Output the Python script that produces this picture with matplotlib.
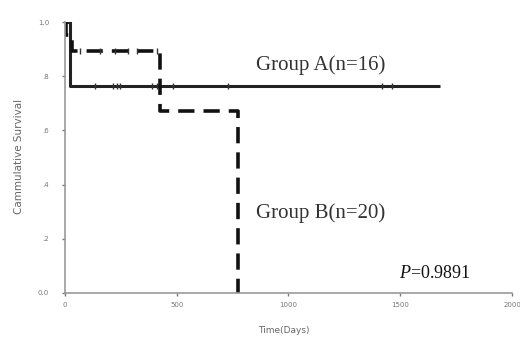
import matplotlib
matplotlib.use("Agg")
import matplotlib.pyplot as plt

plt.rcParams["mathtext.fontset"] = "custom"
plt.rcParams["mathtext.rm"] = "Liberation Serif"
plt.rcParams["mathtext.it"] = "Liberation Serif:italic"

# Kaplan-Meier steps (days, survival)
a_times = [0, 22, 1680]
a_surv = [1.0, 0.765, 0.765]
a_censor_times = [134, 215, 233, 246, 390, 412, 483, 730, 1419, 1464]

b_times = [0, 5, 30, 425, 775]
b_surv = [1.0, 0.953, 0.894, 0.672, 0.0]
b_censor_times = [67, 157, 224, 282, 322, 412]
b_censor_surv = [0.894, 0.894, 0.894, 0.894, 0.894, 0.894]

x_ticks = [0, 500, 1000, 1500, 2000]
x_ticklabels = ["0", "500", "1000", "1500", "2000"]
y_ticks = [0.0, 0.2, 0.4, 0.6, 0.8, 1.0]
y_ticklabels = ["0.0", ".2", ".4", ".6", ".8", "1.0"]

label_a = "Group A(n=16)"
label_b = "Group B(n=20)"
p_text = "$P$=0.9891"

fig = plt.figure(figsize=(5.2, 3.37), dpi=100)
ax = fig.add_axes([0.125, 0.1306, 0.8596, 0.804])

ax.step(a_times, a_surv, where="post", color="#222222", lw=2.2, solid_capstyle="butt")
ax.plot(a_censor_times, [a_surv[-1]] * len(a_censor_times), ls="none",
        marker="|", ms=5, mew=1.0, color="#333333")

ax.step(b_times, b_surv, where="post", color="#111111", lw=2.6,
        dashes=(4.5, 2.5))
ax.plot(b_censor_times, b_censor_surv, ls="none",
        marker="|", ms=5, mew=1.0, color="#333333")

ax.set_xlim(0, 2000)
ax.set_ylim(0, 1.0)
ax.set_xticks(x_ticks)
ax.set_xticklabels(x_ticklabels)
ax.set_yticks(y_ticks)
ax.set_yticklabels(y_ticklabels)
ax.tick_params(axis="both", labelsize=5, labelcolor="#777777", color="#777777",
               length=2.5, width=1.0, direction="out")
ax.tick_params(axis="y", pad=9)
ax.tick_params(axis="x", pad=4)

for s in ["top", "right"]:
    ax.spines[s].set_visible(False)
for s in ["left", "bottom"]:
    ax.spines[s].set_color("#999999")
    ax.spines[s].set_linewidth(1.2)

ax.set_ylabel("Cammulative Survival", fontsize=7.5, color="#666666", labelpad=6)
ax.yaxis.set_label_coords(-0.092, 0.505)
ax.set_xlabel("Time(Days)", fontsize=6.5, color="#666666")
ax.xaxis.set_label_coords(0.49, -0.12)

ax.text(1143, 0.842, label_a, fontsize=15, family="Liberation Serif",
        color="#333333", ha="center", va="center")
ax.text(1143, 0.295, label_b, fontsize=15, family="Liberation Serif",
        color="#333333", ha="center", va="center")
ax.text(1495, 0.073, p_text, fontsize=13,
        family="Liberation Serif", color="#111111", ha="left", va="center")

fig.savefig("out.png", dpi=100)
